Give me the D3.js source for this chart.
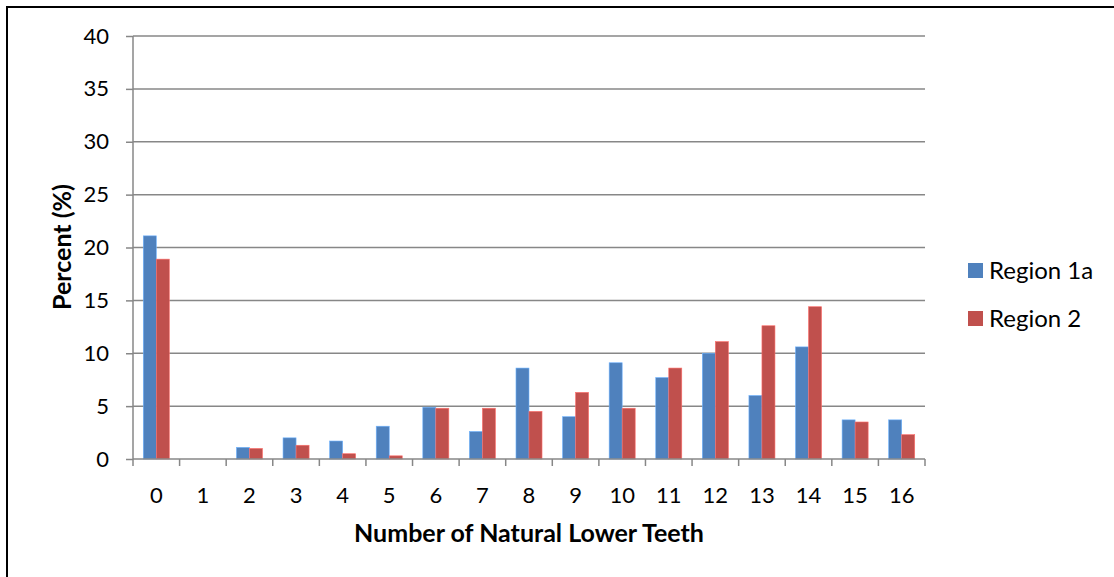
<!DOCTYPE html>
<html>
<head>
<meta charset="utf-8">
<script src="https://cdn.jsdelivr.net/npm/d3@7"></script>
<style>
  html, body { margin: 0; padding: 0; background: #fff; }
  svg { display: block; font-family: Lato, "Open Sans", sans-serif; }
</style>
</head>
<body>
<svg id="chart" width="1114" height="577"></svg>
<script>
// Number of natural lower teeth (0–16)
const categories = ["0","1","2","3","4","5","6","7","8","9","10","11","12","13","14","15","16"];
const seriesNames = ["Region 1a", "Region 2"];
const region1a = [21.1, 0, 1.1, 2.0, 1.7, 3.1, 4.9, 2.6, 8.6, 4.0, 9.1, 7.7, 10.0, 6.0, 10.6, 3.7, 3.7];
const region2  = [18.9, 0, 1.0, 1.3, 0.5, 0.3, 4.8, 4.8, 4.5, 6.3, 4.8, 8.6, 11.1, 12.6, 14.4, 3.5, 2.3];
const yTicks = [0, 5, 10, 15, 20, 25, 30, 35, 40];
const colors = ["#4F81BD", "#C0504D"];

const svg = d3.select("#chart");
const plot = { left: 133, right: 925, top: 36, bottom: 459 };

// outer frame
svg.append("rect")
  .attr("x", 7).attr("y", 7)
  .attr("width", 1120).attr("height", 600)
  .attr("fill", "none").attr("stroke", "#000").attr("stroke-width", 2);

const x0 = d3.scaleBand().domain(categories).range([plot.left, plot.right]).padding(0);
const x1 = d3.scaleBand().domain(seriesNames).range([0, x0.bandwidth()])
  .paddingInner(0).paddingOuter(0.79);
const y = d3.scaleLinear().domain([0, 40]).range([plot.bottom, plot.top]);

const gridColor = "#878787";

// horizontal gridlines
svg.append("g").selectAll("line").data(yTicks.filter(t => t > 0)).join("line")
  .attr("x1", plot.left).attr("x2", plot.right)
  .attr("y1", d => y(d)).attr("y2", d => y(d))
  .attr("stroke", gridColor).attr("stroke-width", 1.5);

// y axis
const yAxis = d3.axisLeft(y).tickValues(yTicks).tickSize(7).tickPadding(17);
const gy = svg.append("g").attr("transform", `translate(${plot.left},0)`).call(yAxis);
gy.select(".domain").remove();
gy.append("line").attr("x1", 0).attr("x2", 0).attr("y1", plot.top).attr("y2", plot.bottom)
  .attr("stroke", gridColor).attr("stroke-width", 1.5);
gy.selectAll(".tick line").attr("stroke", gridColor).attr("stroke-width", 1.5);
gy.selectAll(".tick text").attr("font-size", 22).attr("fill", "#000")
  .attr("font-family", "Lato, sans-serif");

// bars
const data = categories.map((c, i) => ({ cat: c, vals: [region1a[i], region2[i]] }));
const groups = svg.append("g").selectAll("g").data(data).join("g")
  .attr("transform", d => `translate(${x0(d.cat)},0)`);
groups.selectAll("rect").data(d => d.vals.map((v, j) => ({ name: seriesNames[j], v, j })))
  .join("rect")
  .attr("x", d => x1(d.name))
  .attr("width", x1.bandwidth())
  .attr("y", d => y(d.v))
  .attr("height", d => y(0) - y(d.v))
  .attr("fill", d => colors[d.j])
  .attr("stroke", d => d3.color(colors[d.j]).brighter(0.9))
  .attr("stroke-width", d => d.v > 0 ? 0.6 : 0);

// x axis
const gx = svg.append("g").attr("transform", `translate(0,${plot.bottom})`);
gx.append("line").attr("x1", plot.left).attr("x2", plot.right).attr("y1", 0).attr("y2", 0)
  .attr("stroke", gridColor).attr("stroke-width", 1.5);
const boundaries = categories.map(c => x0(c)).concat([x0(categories[categories.length - 1]) + x0.bandwidth()]);
gx.selectAll("line.tk").data(boundaries).join("line").attr("class", "tk")
  .attr("x1", d => d).attr("x2", d => d).attr("y1", 0).attr("y2", 7)
  .attr("stroke", gridColor).attr("stroke-width", 1.5);
gx.selectAll("text").data(categories).join("text")
  .attr("x", d => x0(d) + x0.bandwidth() / 2)
  .attr("y", 44)
  .attr("text-anchor", "middle")
  .attr("font-size", 22)
  .attr("fill", "#000")
  .text(d => d);

// axis titles
svg.append("text")
  .attr("x", 529).attr("y", 542)
  .attr("text-anchor", "middle")
  .attr("font-size", 25).attr("font-weight", "bold").attr("fill", "#000")
  .text("Number of Natural Lower Teeth");
svg.append("text")
  .attr("transform", "translate(71,247) rotate(-90)")
  .attr("text-anchor", "middle")
  .attr("font-size", 25).attr("font-weight", "bold").attr("fill", "#000")
  .text("Percent (%)");

// legend
const legend = svg.append("g").selectAll("g").data(seriesNames).join("g")
  .attr("transform", (d, i) => `translate(968,${263 + i * 48})`);
legend.append("rect").attr("width", 15).attr("height", 15)
  .attr("fill", (d, i) => colors[i]);
legend.append("text").attr("x", 21).attr("y", 16)
  .attr("font-size", 24).attr("fill", "#000")
  .text(d => d);
</script>
</body>
</html>
